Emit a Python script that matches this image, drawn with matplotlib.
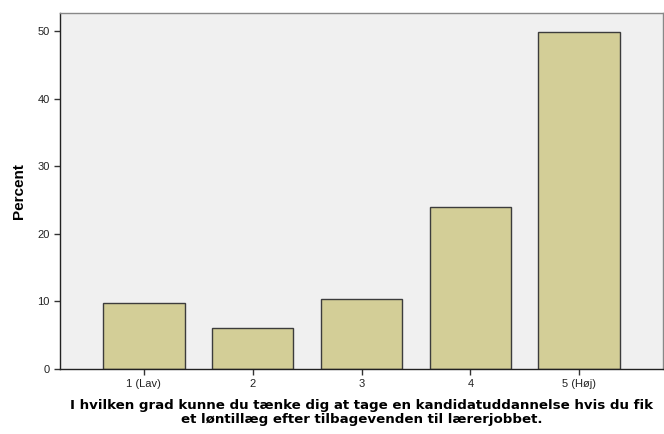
import numpy as np
import matplotlib.pyplot as plt

categories = ['1 (Lav)', '2', '3', '4', '5 (Høj)']
percent = [9.7, 6.1, 10.4, 24.0, 49.9]
xlabel = ('I hvilken grad kunne du tænke dig at tage en kandidatuddannelse hvis du fik\n'
          'et løntillæg efter tilbagevenden til lærerjobbet.')


def main():
    fig = plt.figure(figsize=(6.64, 4.34), dpi=100)
    ax = fig.add_axes([60 / 664, 65 / 434, 603 / 664, 356 / 434])
    ax.set_facecolor('#f0f0f0')

    x = np.arange(1, len(categories) + 1)
    ax.bar(x, percent, width=0.75, color='#d3ce97', edgecolor='#3c3c3c', linewidth=1.0, zorder=2)

    ax.set_xlim(0.23, 5.77)
    ax.set_ylim(0, 52.7)
    ax.set_xticks(x)
    ax.set_xticklabels(categories, family='Liberation Sans', fontsize=8, color='#222222')
    ax.set_yticks([0, 10, 20, 30, 40, 50])
    ax.set_yticklabels(['0', '10', '20', '30', '40', '50'], family='Liberation Sans', fontsize=8, color='#222222')
    ax.tick_params(axis='both', direction='out', length=4, width=1, color='#333333')

    for side in ['left', 'bottom']:
        ax.spines[side].set_color('#222222')
        ax.spines[side].set_linewidth(1.0)
    for side in ['top', 'right']:
        ax.spines[side].set_color('#888888')
        ax.spines[side].set_linewidth(1.0)

    ax.set_ylabel('Percent', family='Liberation Sans', fontweight='bold', fontsize=11, labelpad=8)
    ax.set_xlabel(xlabel, family='DejaVu Sans', fontweight='bold', fontsize=9.6, linespacing=1.08, labelpad=7)

    fig.savefig('out.png', dpi=100)


if __name__ == "__main__":
    main()
